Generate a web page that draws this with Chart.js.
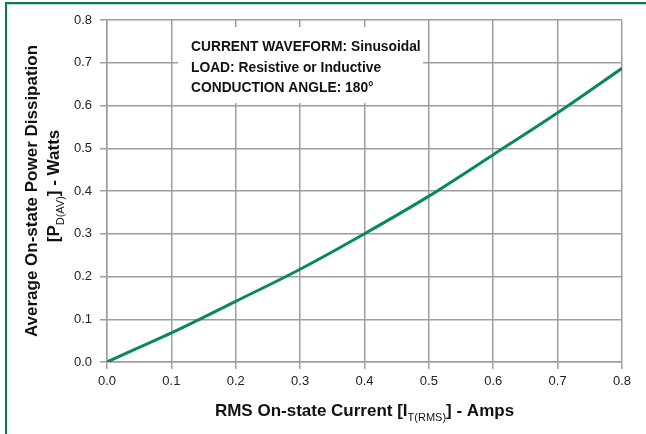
<!DOCTYPE html>
<html lang="en">
<head>
  <meta charset="UTF-8">
  <title>Average On-state Power Dissipation vs RMS Current</title>
  <script src="https://cdn.jsdelivr.net/npm/chart.js"></script>
  <style>
    body { margin: 0; background: #fff; }
    #wrap { width: 646px; height: 434px; position: relative; }
  </style>
</head>
<body>
  <div id="wrap">
    <canvas id="powerChart" width="646" height="434"></canvas>
  </div>

  <script>
    // values
    const currentAmps = [0, 0.05, 0.1, 0.2, 0.3, 0.4, 0.5, 0.6, 0.7, 0.8];
    const powerWatts = [0, 0.034, 0.068, 0.142, 0.217, 0.300, 0.388, 0.485, 0.583, 0.687];
    const noteLines = [
      'CURRENT WAVEFORM: Sinusoidal',
      'LOAD: Resistive or Inductive',
      'CONDUCTION ANGLE: 180\u00b0'
    ];

    const gridColor = '#9e9e9e';
    const curveColor = '#078a55';
    const fontName = '"Liberation Sans", Arial, Helvetica, sans-serif';

    // draws "main + sub + tail" text starting at x, baseline y
    function drawSubText(ctx, parts, x, y, size) {
      let cx = x;
      parts.forEach(p => {
        ctx.font = (p.sub ? 'normal ' + Math.round(size * 0.62) : 'bold ' + size) + 'px ' + fontName;
        ctx.fillText(p.text, cx, p.sub ? y + size * 0.28 : y);
        cx += ctx.measureText(p.text).width;
      });
      return cx - x;
    }
    function measureSubText(ctx, parts, size) {
      let w = 0;
      parts.forEach(p => {
        ctx.font = (p.sub ? 'normal ' + Math.round(size * 0.62) : 'bold ' + size) + 'px ' + fontName;
        w += ctx.measureText(p.text).width;
      });
      return w;
    }

    const decorations = {
      id: 'decorations',
      beforeDatasetsDraw(chart) {
        const ctx = chart.ctx;
        const a = chart.chartArea;
        // white note box over the grid
        ctx.save();
        ctx.fillStyle = '#fff';
        ctx.fillRect(a.left + 71, a.top + 7, 245, 76);
        ctx.fillStyle = '#111';
        ctx.font = 'bold 13.8px ' + fontName;
        ctx.textBaseline = 'alphabetic';
        noteLines.forEach((t, i) => {
          ctx.fillText(t, a.left + 84, a.top + 31 + i * 20.5);
        });
        ctx.restore();
      },
      afterDraw(chart) {
        const ctx = chart.ctx;
        const a = chart.chartArea;
        ctx.save();
        // green frame (top and left)
        ctx.fillStyle = '#0b7a4c';
        ctx.fillRect(5, 2, 641, 2);
        ctx.fillRect(5, 2, 2, 432);
        ctx.fillStyle = '#bfe0cf';
        ctx.fillRect(7, 4, 639, 1);

        ctx.fillStyle = '#111';
        ctx.textBaseline = 'alphabetic';

        // x axis title
        const xParts = [
          { text: 'RMS On-state Current [I' },
          { text: 'T(RMS)', sub: true },
          { text: '] - Amps' }
        ];
        const xw = measureSubText(ctx, xParts, 17);
        drawSubText(ctx, xParts, (a.left + a.right) / 2 - xw / 2, 416, 17);

        // y axis title, two rotated lines
        const cy = (a.top + a.bottom) / 2;
        ctx.translate(0, cy);
        ctx.rotate(-Math.PI / 2);
        ctx.font = 'bold 17px ' + fontName;
        const l1 = 'Average On-state Power Dissipation';
        ctx.fillText(l1, -ctx.measureText(l1).width / 2, 37);
        const yParts = [
          { text: '[P' },
          { text: 'D(AV)', sub: true },
          { text: '] - Watts' }
        ];
        const yw = measureSubText(ctx, yParts, 17);
        drawSubText(ctx, yParts, -yw / 2 + 5, 59, 17);
        ctx.restore();
      }
    };

    const config = {
      type: 'line',
      data: {
        datasets: [{
          data: currentAmps.map((x, i) => ({ x: x, y: powerWatts[i] })),
          borderColor: curveColor,
          borderWidth: 3,
          pointRadius: 0,
          fill: false,
          cubicInterpolationMode: 'monotone'
        }]
      },
      options: {
        responsive: false,
        animation: false,
        layout: { padding: { top: 20, right: 24, left: 0, bottom: 0 } },
        plugins: {
          legend: { display: false },
          tooltip: { enabled: false }
        },
        scales: {
          x: {
            type: 'linear',
            min: 0,
            max: 0.8,
            afterFit: s => { s.height = 72; },
            ticks: {
              stepSize: 0.1,
              padding: 5,
              color: '#222',
              font: { family: fontName, size: 13 },
              callback: v => v.toFixed(1)
            },
            grid: { color: gridColor, lineWidth: 1.5, tickLength: 7 },
            border: { color: gridColor, width: 1.5 }
          },
          y: {
            min: 0,
            max: 0.8,
            afterFit: s => { s.width = 107; },
            ticks: {
              stepSize: 0.1,
              padding: 8,
              color: '#222',
              font: { family: fontName, size: 13 },
              callback: v => v.toFixed(1)
            },
            grid: { color: gridColor, lineWidth: 1.5, tickLength: 7 },
            border: { color: gridColor, width: 1.5 }
          }
        }
      },
      plugins: [decorations]
    };

    new Chart(document.getElementById('powerChart'), config);
  </script>
</body>
</html>
